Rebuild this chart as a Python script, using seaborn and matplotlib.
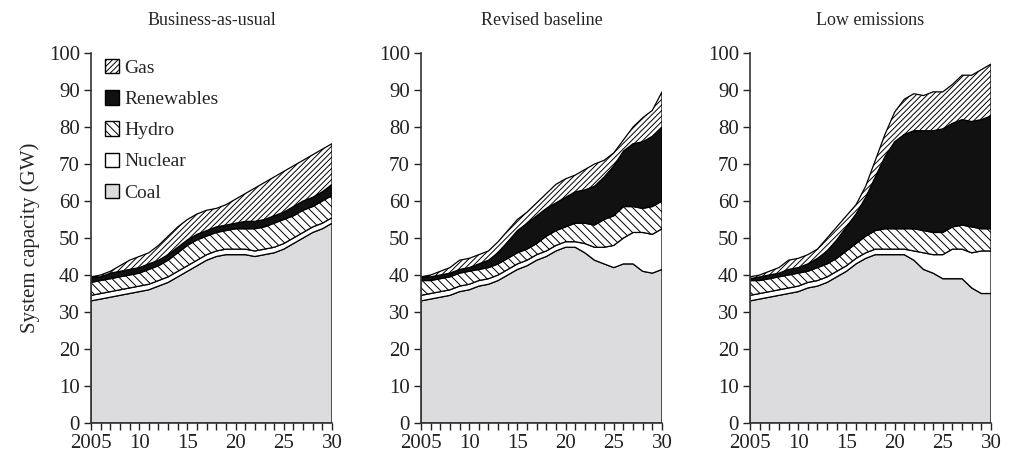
import numpy as np
import seaborn as sns
import matplotlib.pyplot as plt
from matplotlib.patches import Patch

years = list(range(2005, 2031))
sources = ["Coal", "Nuclear", "Hydro", "Renewables", "Gas"]
titles = ["Business-as-usual", "Revised baseline", "Low emissions"]

# upper edge of each stacked layer (GW)
bau_coal = [33, 33.5, 34, 34.5, 35, 35.5, 36, 37, 38, 39.5, 41, 42.5, 44, 45, 45.5, 45.5, 45.5, 45, 45.5, 46, 47, 48.5, 50, 51.5, 52.5, 54]
bau_nuclear = [34.5, 35, 35.5, 36, 36.5, 37, 37.5, 38.5, 39.5, 41, 42.5, 44, 45.5, 46.5, 47, 47, 47, 46.5, 47, 47.5, 48.5, 50, 51.5, 53, 54, 55.5]
bau_hydro = [38, 38.5, 39, 39.5, 40, 40.5, 41.5, 42.5, 44, 46, 48, 49.5, 50.5, 51.5, 52, 52.5, 52.5, 52.5, 53, 54, 55, 56, 57.5, 58.5, 60, 61.5]
bau_renew = [39.5, 39.5, 40.5, 41, 41.5, 42, 43, 44, 45.5, 47.5, 49.5, 51, 52, 53, 53.5, 54, 54.5, 54.5, 55, 56, 57, 58.5, 60, 61, 62.5, 64.5]
bau_gas = [39.5, 40, 41, 42.5, 44, 45, 46, 48, 50.5, 53, 55, 56.5, 57.5, 58, 59, 60.5, 62, 63.5, 65, 66.5, 68, 69.5, 71, 72.5, 74, 75.5]

rb_coal = [33, 33.5, 34, 34.5, 35.5, 36, 37, 37.5, 38.5, 40, 41.5, 42.5, 44, 45, 46.5, 47.5, 47.5, 46, 44, 43, 42, 43, 43, 41, 40.5, 41.5]
rb_nuclear = [34.5, 35, 35.5, 36, 37, 37.5, 38.5, 39, 40, 41.5, 43, 44, 45.5, 46.5, 48, 49, 49, 48.5, 47.5, 47.5, 48, 50, 51.5, 51.5, 51, 52.5]
rb_hydro = [38.5, 38.5, 39, 39.5, 40.5, 41, 41.5, 42, 43, 44.5, 46, 47, 48.5, 50.5, 52, 53, 54, 54, 53.5, 55, 56, 58.5, 58.5, 58, 58.5, 60]
rb_renew = [39.5, 39.5, 40, 40.5, 41.5, 42, 43, 44, 46, 49, 52, 54, 56, 58, 59.5, 61, 62.5, 63, 64, 66.5, 69.5, 73.5, 75.5, 76, 77.5, 80]
rb_gas = [39.5, 40, 41, 42, 44, 44.5, 45.5, 46.5, 49, 52, 55, 57, 59.5, 62, 64.5, 66, 67, 68.5, 70, 71, 73, 76.5, 80, 82.5, 84.5, 89.5]

le_coal = [33, 33.5, 34, 34.5, 35, 35.5, 36.5, 37, 38, 39.5, 41, 43, 44.5, 45.5, 45.5, 45.5, 45.5, 44, 41.5, 40.5, 39, 39, 39, 36.5, 35, 35]
le_nuclear = [34.5, 35, 35.5, 36, 36.5, 37, 38, 38.5, 39.5, 41, 42.5, 44.5, 46, 47, 47, 47, 47, 46.5, 46, 45.5, 45.5, 47, 47, 46, 46.5, 46.5]
le_hydro = [38.5, 38.5, 39, 39.5, 40, 40.5, 41, 42, 43, 44.5, 46.5, 48.5, 50.5, 52, 52.5, 52.5, 52.5, 52.5, 52, 51.5, 51.5, 53, 53.5, 53, 52.5, 52.5]
le_renew = [39, 39.5, 40, 40.5, 41.5, 42, 43, 44.5, 46.5, 49.5, 53, 56.5, 61, 66.5, 72, 76, 78, 79, 79, 79, 79.5, 81, 82, 81.5, 82, 83]
le_gas = [39.5, 40, 41, 42, 44, 44.5, 45.5, 47, 50, 53, 56, 59, 64, 71, 78, 84, 87.5, 89, 88.5, 89.5, 89.5, 91.5, 94, 94, 95.5, 97]

scenarios = [
    [bau_coal, bau_nuclear, bau_hydro, bau_renew, bau_gas],
    [rb_coal, rb_nuclear, rb_hydro, rb_renew, rb_gas],
    [le_coal, le_nuclear, le_hydro, le_renew, le_gas],
]

colors = ["#dcdcde", "white", "white", "#111111", "white"]
hatches = ["", "", "\\\\\\\\", "", "//////"]

sns.set_style("ticks")
plt.rcParams["font.family"] = ["Liberation Serif", "DejaVu Serif"]
plt.rcParams["hatch.linewidth"] = 0.7

fig = plt.figure(figsize=(10.13, 4.57), dpi=100)
lefts = [91, 421, 750]
axes = []
for i, left in enumerate(lefts):
    ax = fig.add_axes([left / 1013, 34 / 457, 241 / 1013, 370 / 457])
    tops = np.array(scenarios[i])
    layers = np.diff(np.vstack([np.zeros(len(years)), tops]), axis=0)
    ax.stackplot(years, layers, colors=colors, hatch=hatches,
                 edgecolor="black", linewidth=0.9)
    ax.set_xlim(2005, 2030)
    ax.set_ylim(0, 100)
    ax.set_yticks(range(0, 101, 10))
    ax.set_xticks(range(2005, 2031, 5))
    ax.set_xticklabels(["2005", "10", "15", "20", "25", "30"])
    ax.set_xticks(years, minor=True)
    ax.tick_params(axis="both", which="both", direction="out", length=5,
                   width=1, labelsize=15, colors="#222222", pad=3)
    ax.set_title(titles[i], fontsize=13, pad=20)
    for s in ["left", "bottom"]:
        ax.spines[s].set_linewidth(1.2)
        ax.spines[s].set_color("#333333")
    sns.despine(ax=ax)
    axes.append(ax)

axes[0].set_ylabel("System capacity (GW)", fontsize=15, labelpad=6)

handles = [Patch(facecolor=colors[k], edgecolor="black", hatch=hatches[k], label=sources[k])
           for k in [4, 3, 2, 1, 0]]
axes[0].legend(handles=handles, loc="upper left", bbox_to_anchor=(0.0, 1.02),
               frameon=False, fontsize=14, handlelength=0.75, handleheight=0.75,
               handletextpad=0.25, labelspacing=0.68, borderaxespad=0.3)

fig.savefig("out.png", dpi=100)
